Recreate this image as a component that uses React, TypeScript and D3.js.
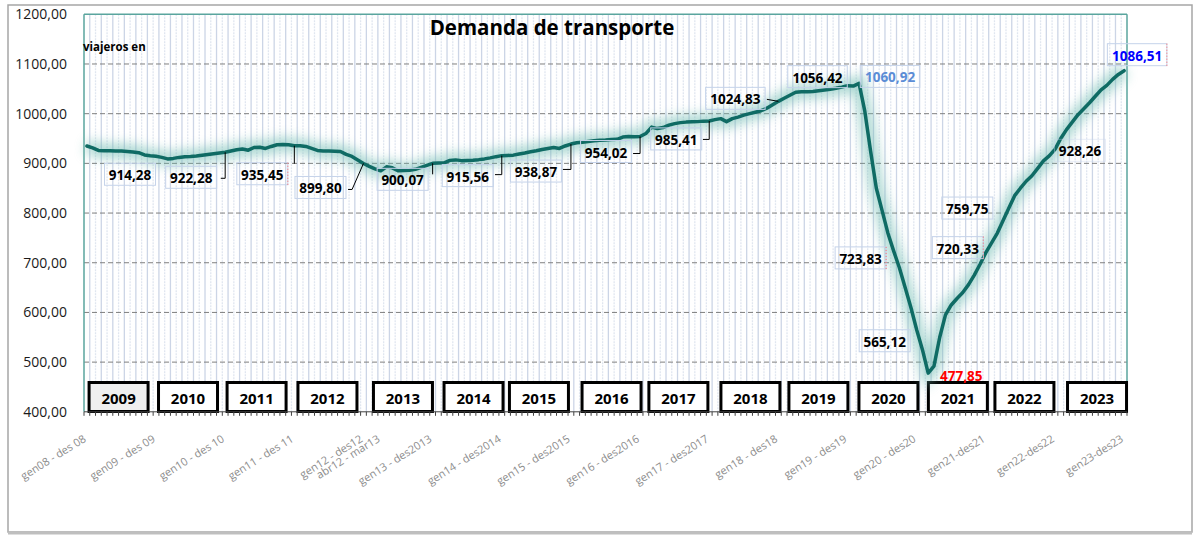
import React from "react";
import * as d3 from "d3";

// Monthly 12-month rolling totals (gen08-des08 ... gen23-des23)
const values: number[] = [
  935, 931, 926, 925.5, 925.5, 925, 925, 924, 923, 921.5, 917, 915.5,
  914.28, 912, 909, 910, 912, 913.5, 914, 915, 916.5, 918, 919.5, 921,
  922.28, 925, 927.5, 929, 926.5, 932, 932.5, 930, 934, 937.5, 938, 937.5,
  935.45, 935.5, 934, 930, 926, 925, 925, 924.5, 924, 918, 914, 907,
  899.8, 894, 889, 885, 893, 891, 885, 885.5, 886, 888, 892, 896,
  900.07, 900.5, 901, 906, 907, 905.5, 906, 906.5, 907.5, 909, 911, 913.5,
  915.56, 916, 916.5, 919, 921, 923.5, 925.5, 928, 930, 932, 930, 935,
  938.87, 941.5, 942.5, 944, 945.5, 946.5, 947, 948, 948.5, 953, 954, 953.5,
  954.02, 960, 973, 970, 972, 977, 980, 982, 983, 983.5, 984, 985,
  985.41, 988, 990, 984, 990, 993, 997, 1000, 1003, 1006, 1011, 1018,
  1024.83, 1031, 1037, 1043, 1044, 1044, 1044.5, 1046, 1047.5, 1049, 1051, 1053.5,
  1056.42, 1055.5, 1060.92, 1005, 925, 850, 805, 760, 723.83, 690, 650, 610,
  565.12, 525, 477.85, 492, 550, 595, 615, 628, 640, 656, 675, 697,
  720.33, 740, 759.75, 785, 810, 835, 850, 864, 875, 890, 905, 915,
  928.26, 950, 968, 983, 998, 1010, 1022, 1035, 1048, 1057, 1069, 1079,
  1086.51,
];

const tickIdx: number[] = [0, 12, 24, 36, 48, 51, 60, 72, 84, 96, 108, 120, 132, 144, 156, 168, 180];
const tickText: string[] = [
  "gen08 - des 08", "gen09 - des 09", "gen10 - des 10", "gen11 - des 11", "gen12 - des12",
  "abr12 - mar13", "gen13 - des2013", "gen14 - des2014", "gen15 - des2015", "gen16 - des2016",
  "gen17 - des2017", "gen18 - des18", "gen19 - des19", "gen20 - des20", "gen21-des21",
  "gen22-des22", "gen23-des23",
];

const yTicks: number[] = [400, 500, 600, 700, 800, 900, 1000, 1100, 1200];

const years: string[] = ["2009", "2010", "2011", "2012", "2013", "2014", "2015", "2016", "2017", "2018", "2019", "2020", "2021", "2022", "2023"];
// year box centre, in category units
const yearPos: number[] = [5.5, 17.55, 29.45, 41.75, 54.85, 67.1, 78.45, 91.05, 102.65, 115.15, 126.95, 139.1, 151.15, 162.7, 175.3];

// labelled points
const labelIdx: number[] = [12, 24, 36, 48, 60, 72, 84, 96, 108, 120, 132, 134, 140, 144, 146, 156, 158, 168, 180];

// label layout (text centre / baseline offset from the point), box, colour, leader
type Lay = { dx: number; dy: number; box: number; color: string; leader?: number[][]; red?: boolean };
const labelLayout: Lay[] = [
  { dx: -26, dy: 24, box: 1, color: "#000" },
  { dx: -34, dy: 31, box: 1, color: "#000", leader: [[-4.4, 26], [0, 26], [0, 0]] },
  { dx: -32, dy: 34, box: 1, color: "#000", leader: [[0, 0], [0, 18]], red: true },
  { dx: -43, dy: 30, box: 1, color: "#000", leader: [[-15.4, 26], [-11.4, 26], [0, 0]] },
  { dx: -30, dy: 22, box: 1, color: "#000", leader: [[0, 0], [0, 11]] },
  { dx: -34, dy: 26, box: 1, color: "#000", leader: [[-6.8, 19], [0, 19], [0, 0]] },
  { dx: -35, dy: 33, box: 1, color: "#000", leader: [[-8, 25.4], [0, 25.4], [0, 0]] },
  { dx: -34, dy: 21, box: 1, color: "#000", leader: [[-7, 17], [0, 17], [0, 0]] },
  { dx: -33, dy: 24, box: 1, color: "#000", leader: [[-6.3, 18.5], [0, 18.5], [0, 0]] },
  { dx: -43, dy: 3, box: 1, color: "#000", leader: [[-11.5, -2], [0, 0]] },
  { dx: -30, dy: -3, box: 1, color: "#000" },
  { dx: 31, dy: -1, box: 1, color: "#5b8dd6" },
  { dx: -33, dy: 13, box: 1, color: "#000", red: true },
  { dx: -32, dy: 17, box: 1, color: "#000" },
  { dx: 33, dy: 8, box: 0, color: "#ff0000" },
  { dx: -28, dy: 1, box: 1, color: "#000", red: true },
  { dx: -30, dy: -19, box: 1, color: "#000" },
  { dx: 25, dy: 7, box: 0.4, color: "#000" },
  { dx: 13, dy: -10, box: 1, color: "#0000ff", red: true },
];

const fmt = (v: number) => v.toFixed(2).replace(".", ",");

export default function App() {
  const L = 84, R = 1127, T = 14.3, B = 411.8;
  const x = d3.scalePoint<number>().domain(d3.range(values.length)).range([L, R]).padding(0.5);
  const step = x.step();
  const y = d3.scaleLinear().domain([400, 1200]).range([B, T]);
  const line = d3.line<number>().x((_, i) => x(i) as number).y((d) => y(d)).curve(d3.curveLinear);
  const path = line(values) || "";
  const boundaries = d3.range(1, values.length).map((k) => L + k * step);
  const font = "'Open Sans', 'DejaVu Sans', sans-serif";

  return (
    <div style={{ position: "absolute", left: 0, top: 0 }}>
      <svg width={1200} height={536} style={{ display: "block", fontFamily: font }}>
        <defs>
          <filter id="glow" x="-10%" y="-40%" width="120%" height="180%">
            <feGaussianBlur stdDeviation="6" />
          </filter>
        </defs>
        <rect x={0} y={0} width={1200} height={536} fill="#fff" />
        <rect x={8} y={5} width={1184} height={527} fill="#fff" stroke="#a6a6a6" strokeWidth={1.5} />
        <line x1={8} x2={1192} y1={533} y2={533} stroke="#bfbfbf" strokeWidth={3} />

        {/* vertical gridlines */}
        {boundaries.map((bx, k) => (
          <line key={"v" + k} x1={bx} x2={bx} y1={T} y2={B}
            stroke={k % 2 === 0 ? "#ccd5e6" : "#e0e6f0"} strokeWidth={1.3}
            strokeDasharray={k % 2 === 0 ? undefined : "2,1"} />
        ))}
        {/* horizontal gridlines */}
        {yTicks.filter((t) => t > 400 && t < 1200).map((t) => (
          <line key={"h" + t} x1={L} x2={R} y1={y(t)} y2={y(t)} stroke="#7f7f7f" strokeWidth={1} strokeDasharray="5,3" />
        ))}
        {/* plot border */}
        <line x1={L} x2={R} y1={T} y2={T} stroke="#5aa59e" strokeWidth={1.5} />
        <line x1={L} x2={L} y1={T} y2={B} stroke="#5aa59e" strokeWidth={1.5} />
        <line x1={R} x2={R} y1={T} y2={B} stroke="#5aa59e" strokeWidth={1.5} />

        {/* y axis labels */}
        {yTicks.map((t) => (
          <text key={"yl" + t} x={67} y={y(t) + 5} textAnchor="end" fontSize={14} fill="#1a1a1a">
            {fmt(t)}
          </text>
        ))}

        {/* title */}
        <text x={552} y={35} textAnchor="middle" fontSize={20.5} fontWeight="bold" fill="#000">Demanda de transporte</text>
        <text x={83} y={51} fontSize={11.5} fontWeight="bold" fill="#000">viajeros en</text>

        {/* year boxes */}
        {years.map((yr, k) => {
          const cx = L + (yearPos[k] + 0.5) * step;
          return (
            <g key={yr}>
              <rect x={cx - 29.5} y={382.5} width={59} height={29} fill={k === 0 ? "#efefef" : "#fff"} stroke="#000" strokeWidth={3} />
              <text x={cx} y={404} textAnchor="middle" fontSize={15} fontWeight="bold" fill="#000">{yr}</text>
            </g>
          );
        })}

        {/* x axis */}
        <line x1={L} x2={R} y1={B} y2={B} stroke="#404040" strokeWidth={1} />
        {d3.range(0, values.length + 1).map((k) => (
          <line key={"t" + k} x1={L + k * step} x2={L + k * step} y1={B} y2={B + 4} stroke="#404040" strokeWidth={1} />
        ))}
        {tickIdx.map((ti, k) => (
          <text key={"xl" + ti} transform={`translate(${x(ti) as number},${B + 29}) rotate(-32)`}
            textAnchor="end" fontSize={11} fill="#8c8c8c">{tickText[k]}</text>
        ))}

        {/* line with glow */}
        <path d={path} fill="none" stroke="#6fbcb2" strokeWidth={14} opacity={0.6} filter="url(#glow)" />
        <path d={path} fill="none" stroke="#0f6b64" strokeWidth={3.5} strokeLinejoin="round" strokeLinecap="round" />

        {/* data labels */}
        {labelIdx.map((li, k) => {
          const lay = labelLayout[k];
          const px = x(li) as number;
          const py = y(values[li]);
          const tx = px + lay.dx;
          const ty = py + lay.dy;
          const txt = fmt(values[li]);
          const w = txt.length * 8.5;
          return (
            <g key={"lab" + li}>
              {lay.box > 0 && (
                <rect x={tx - w / 2} y={ty - 17} width={w} height={22} fill="none"
                  stroke="#c5d3ea" strokeWidth={1} strokeOpacity={lay.box} />
              )}
              {lay.red && (
                <line x1={tx + w / 2} x2={tx + w / 2} y1={ty - 17} y2={ty + 5} stroke="#ff6666" strokeWidth={1} strokeDasharray="1,2" />
              )}
              {lay.leader && (
                <polyline points={lay.leader.map((p) => `${px + p[0]},${py + p[1]}`).join(" ")} fill="none" stroke="#000" strokeWidth={1} />
              )}
              <text x={tx} y={ty} textAnchor="middle" fontSize={13.5} fontWeight="bold" fill={lay.color}>{txt}</text>
            </g>
          );
        })}
      </svg>
    </div>
  );
}
